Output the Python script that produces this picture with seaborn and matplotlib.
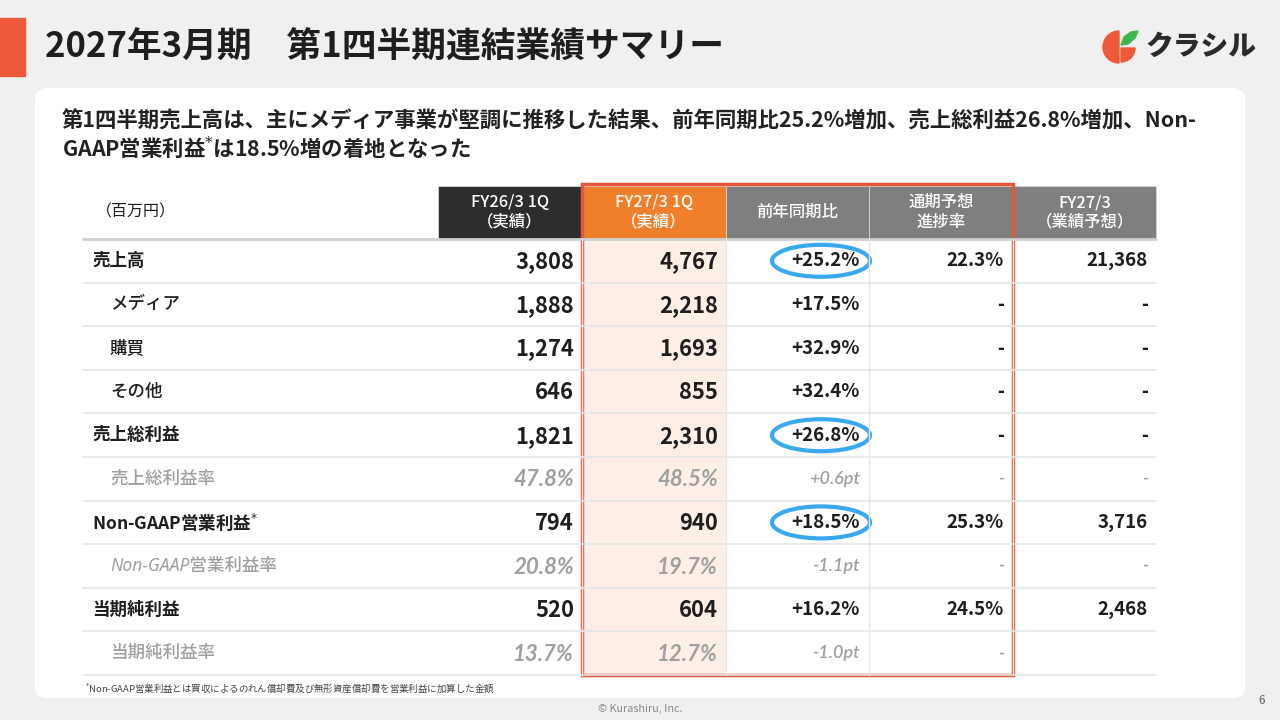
import matplotlib
matplotlib.use("Agg")
import matplotlib.pyplot as plt
from matplotlib.patches import FancyBboxPatch, Rectangle, Ellipse, Wedge, Polygon
import seaborn as sns

sns.set_theme(style="white")
plt.rcParams['font.family'] = ['Noto Sans CJK JP', 'DejaVu Sans']

# data
title = "2027年3月期　第1四半期連結業績サマリー"
subtitle = ["第1四半期売上高は、主にメディア事業が堅調に推移した結果、前年同期比25.2%増加、売上総利益26.8%増加、Non-",
            "GAAP営業利益$^{*}$は18.5%増の着地となった"]
unit_label = "（百万円）"
col_heads = ["FY26/3 1Q\n（実績）", "FY27/3 1Q\n（実績）", "前年同期比", "通期予想\n進捗率", "FY27/3\n（業績予想）"]
row_labels = ["売上高", "メディア", "購買", "その他", "売上総利益", "売上総利益率",
              "Non-GAAP営業利益$^{*}$", "Non-GAAP営業利益率", "当期純利益", "当期純利益率"]
row_kind = ["main", "sub", "sub", "sub", "main", "ratio", "main", "ratio", "main", "ratio"]
fy26_1q = ["3,808", "1,888", "1,274", "646", "1,821", "47.8%", "794", "20.8%", "520", "13.7%"]
fy27_1q = ["4,767", "2,218", "1,693", "855", "2,310", "48.5%", "940", "19.7%", "604", "12.7%"]
yoy = ["+25.2%", "+17.5%", "+32.9%", "+32.4%", "+26.8%", "+0.6pt", "+18.5%", "-1.1pt", "+16.2%", "-1.0pt"]
progress = ["22.3%", "-", "-", "-", "-", "-", "25.3%", "-", "24.5%", "-"]
forecast = ["21,368", "-", "-", "-", "-", "-", "3,716", "-", "2,468", ""]
circled = ["+25.2%", "+26.8%", "+18.5%"]
footnote = "$^{*}$Non-GAAP営業利益とは買収によるのれん償却費及び無形資産償却費を営業利益に加算した金額"

# layout (pixels)
col_edges = [83, 438, 582, 726, 869, 1013, 1156]
head_top, head_bot = 186, 239
row_h = 43.6
n_rows = len(row_labels)
body_bot = head_bot + row_h * n_rows

orange = "#f07f2c"
red = "#e5573b"
grey_txt = "#a0a0a0"
dark = "#1e1e1e"
italic_fam = ["Lato", "Noto Sans", "DejaVu Sans"]

fig = plt.figure(figsize=(12.8, 7.2), dpi=100)
fig.patch.set_facecolor("#f0f0f0")
ax = fig.add_axes([0, 0, 1, 1])
ax.set_xlim(0, 1280)
ax.set_ylim(720, 0)
ax.axis("off")

# title bar
ax.add_patch(Rectangle((0, 18), 25, 58, color="#ef5a3a"))
ax.text(45, 47, title, fontsize=25, fontweight="bold", color=dark, va="center", ha="left")

# logo
ax.add_patch(Wedge((1119, 47), 16, 90, 270, color="#ef5a3a"))
ax.add_patch(Wedge((1121, 48), 14, 0, 90, color="#ef5a3a"))
ax.add_patch(Polygon([[1121, 45], [1124, 37], [1131, 32], [1138, 31], [1135, 38], [1128, 44]],
                     closed=True, color="#3db84a"))
ax.text(1146, 47, "クラシル", fontsize=20, fontweight="heavy", color="#2a2a2a", va="center", ha="left")

# white panel
ax.add_patch(FancyBboxPatch((35, 88), 1210, 610, boxstyle="round,pad=0,rounding_size=12",
                            facecolor="white", edgecolor="none"))

ax.text(62, 121, subtitle[0], fontsize=15.4, fontweight="bold", color="#222222", va="center")
ax.text(62, 148, subtitle[1], fontsize=15.4, fontweight="bold", color="#222222", va="center")

# header
ax.text(96, 212, unit_label, fontsize=11.5, color=dark, va="center", ha="left")
head_colors = ["#2d2d2d", orange, "#7f7f7f", "#7f7f7f", "#7f7f7f"]
for j, (h, c) in enumerate(zip(col_heads, head_colors)):
    x0, x1 = col_edges[j + 1], col_edges[j + 2]
    ax.add_patch(Rectangle((x0, head_top), x1 - x0, head_bot - head_top, facecolor=c,
                           edgecolor="#d8d8d8", linewidth=0.6))
    ax.text((x0 + x1) / 2, (head_top + head_bot) / 2, h, fontsize=11.8, color="white",
            ha="center", va="center", linespacing=1.2, fontweight="medium")

# highlighted column background
ax.add_patch(Rectangle((col_edges[2], head_bot), col_edges[3] - col_edges[2], body_bot - head_bot,
                       facecolor="#fdefe6", edgecolor="none"))

# row lines
ax.plot([col_edges[0], col_edges[-1]], [head_bot, head_bot], color="#cfcfcf", lw=2)
for i in range(1, n_rows + 1):
    y = head_bot + row_h * i
    ax.plot([col_edges[0], col_edges[-1]], [y, y], color="#e6e6e6", lw=1.2)
for xe in col_edges[2:6]:
    ax.plot([xe, xe], [head_bot, body_bot], color="#e6e6e6", lw=1)

# body text
for i in range(n_rows):
    yc = head_bot + row_h * (i + 0.5)
    kind = row_kind[i]
    if kind == "ratio":
        lab_kw = dict(color=grey_txt, style="italic", fontweight="medium",
                      family=["Noto Sans", "Noto Sans CJK JP", "DejaVu Sans"])
        big_kw = dict(color=grey_txt, style="italic", fontweight="bold", fontsize=16,
                      family=italic_fam)
        sm_kw = dict(color=grey_txt, style="italic", fontweight="semibold", fontsize=13,
                     family=italic_fam)
        lx = 110
    else:
        lab_kw = dict(color=dark, fontweight="medium" if kind == "sub" else "bold")
        big_kw = dict(color=dark, fontweight="bold", fontsize=15.8)
        sm_kw = dict(color=dark, fontweight="bold", fontsize=13.5)
        lx = 92 if kind == "main" else 110
    ax.text(lx, yc, row_labels[i], fontsize=12.6, ha="left", va="center", **lab_kw)
    ax.text(col_edges[2] - 8, yc + 1, fy26_1q[i], ha="right", va="center", **big_kw)
    ax.text(col_edges[3] - 8, yc + 1, fy27_1q[i], ha="right", va="center", **big_kw)
    ax.text(col_edges[4] - 9, yc, yoy[i], ha="right", va="center", **sm_kw)
    ax.text(col_edges[5] - 9, yc, progress[i], ha="right", va="center", **sm_kw)
    ax.text(col_edges[6] - 8, yc, forecast[i], ha="right", va="center", **sm_kw)
    if yoy[i] in circled:
        ax.add_patch(Ellipse((col_edges[4] - 48, yc), 98, 32, fill=False,
                             edgecolor="#3aa8ef", linewidth=3))

# red outline around the current quarter block
ax.add_patch(Rectangle((col_edges[2], head_top - 2), col_edges[5] - col_edges[2], body_bot - head_top + 2,
                       fill=False, edgecolor=red, linewidth=2.5))

ax.text(85, 688, footnote, fontsize=6.8, color="#444444", va="center", ha="left")
ax.text(640, 709, "© Kurashiru, Inc.", fontsize=7.8, color="#8a8a8a", ha="center", va="center")
ax.text(1262, 701, "6", fontsize=8.5, color="#666666", ha="center", va="center")

plt.savefig("out.png", dpi=100, facecolor=fig.get_facecolor())
